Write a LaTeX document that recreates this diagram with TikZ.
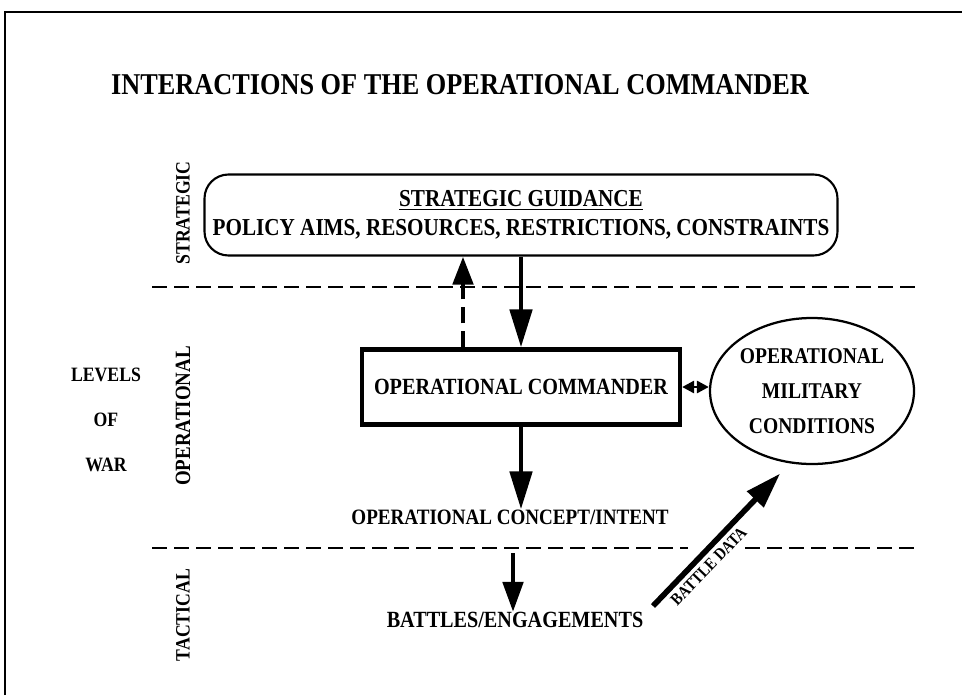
\documentclass[tikz,border=0pt]{standalone}
\usepackage{fontspec}
\setmainfont{Liberation Serif}[FakeStretch=0.87]
\usetikzlibrary{arrows.meta,shapes.geometric}

\begin{document}
\begin{tikzpicture}[every node/.style={inner sep=0pt}, font=\bfseries,
  lbl/.style={font=\bfseries\fontsize{16.5}{20.5}\selectfont},
  levellbl/.style={font=\bfseries\fontsize{14.5}{17}\selectfont, rotate=90},
  divider/.style={line width=1.6pt, dash pattern=on 0.375cm off 0.175cm},
  bigarrow/.style={line width=3.5pt, -{Triangle[width=0.55cm,length=0.95cm]}}]

\useasboundingbox (0,0) rectangle (24.05,-17.375);

% Frame
\draw[line width=1.8pt] (0.125,-17.375) -- (0.125,-0.3) -- (24.05,-0.3);

% Title
\node[font=\bfseries\fontsize{21.5}{25}\selectfont] (title) at (11.5,-2.125) {INTERACTIONS OF THE OPERATIONAL COMMANDER};

% Levels of war
\node[font=\bfseries\fontsize{14.5}{32}\selectfont, align=center] (levels) at (2.65,-10.5) {LEVELS\\OF\\WAR};
\node[levellbl] (strat) at (4.575,-5.325) {STRATEGIC};
\node[levellbl, font=\bfseries\fontsize{15.5}{17}\selectfont] (oper) at (4.575,-10.4) {OPERATIONAL};
\node[levellbl] (tact) at (4.575,-15.375) {TACTICAL};

% Dividers
\draw[divider] (3.8,-7.175) -- (22.875,-7.175);
\draw[divider] (3.8,-13.7) -- (17.2,-13.7);
\draw[divider] (18.625,-13.7) -- (22.875,-13.7);

% Strategic guidance
\node[draw, font=\bfseries\fontsize{17.3}{20.5}\selectfont, rounded corners=0.6cm, line width=1.5pt, minimum width=15.825cm, minimum height=2.025cm, align=center] (sg) at (13.025,-5.375)
  {\underline{STRATEGIC GUIDANCE}\\POLICY AIMS, RESOURCES, RESTRICTIONS, CONSTRAINTS};

% Operational commander
\node[draw, lbl, line width=3pt, minimum width=7.95cm, minimum height=1.875cm] (cmd) at (13.025,-9.675) {OPERATIONAL COMMANDER};
\node[draw, ellipse, line width=1.6pt, minimum width=4.85cm, minimum height=3.65cm, align=center, font=\bfseries\fontsize{16}{25}\selectfont] (cond) at (20.3,-9.775)
  {OPERATIONAL\\MILITARY\\CONDITIONS};

% Concept and battles
\node[font=\bfseries\fontsize{15.6}{20}\selectfont] (concept) at (12.75,-12.925) {OPERATIONAL CONCEPT/INTENT};
\node[lbl] (battles) at (12.875,-15.5) {BATTLES/ENGAGEMENTS};
\coordinate (tacttop) at (12.825,-13.825);
\coordinate (bdtail) at (16.325,-15.15);

% Arrows
\draw[bigarrow] (sg.south) -- (cmd.north);
\draw[line width=3.5pt, dash pattern=on 0.4cm off 0.2cm, -{Triangle[width=0.5cm,length=0.7cm]}]
  ([xshift=-1.45cm]cmd.north) -- ([xshift=-1.45cm]cmd.north |- sg.south);
\draw[bigarrow] (cmd.south) -- (cmd.south |- concept.north);
\draw[line width=3.5pt, -{Triangle[width=0.5cm,length=0.75cm]}] (tacttop) -- (tacttop |- battles.north);
\draw[line width=2pt, {Triangle[width=0.3cm,length=0.3cm]}-{Triangle[width=0.3cm,length=0.3cm]}] (cmd.east) -- (cmd.east -| cond.west);
\draw[line width=4pt, -{Triangle[width=0.55cm,length=0.9cm]}, shorten >=0.35cm] (bdtail) -- (cond.253)
  node[pos=0.34, below=3pt, sloped, font=\bfseries\fontsize{12}{14}\selectfont] (bd) {BATTLE DATA};

\end{tikzpicture}
\end{document}
